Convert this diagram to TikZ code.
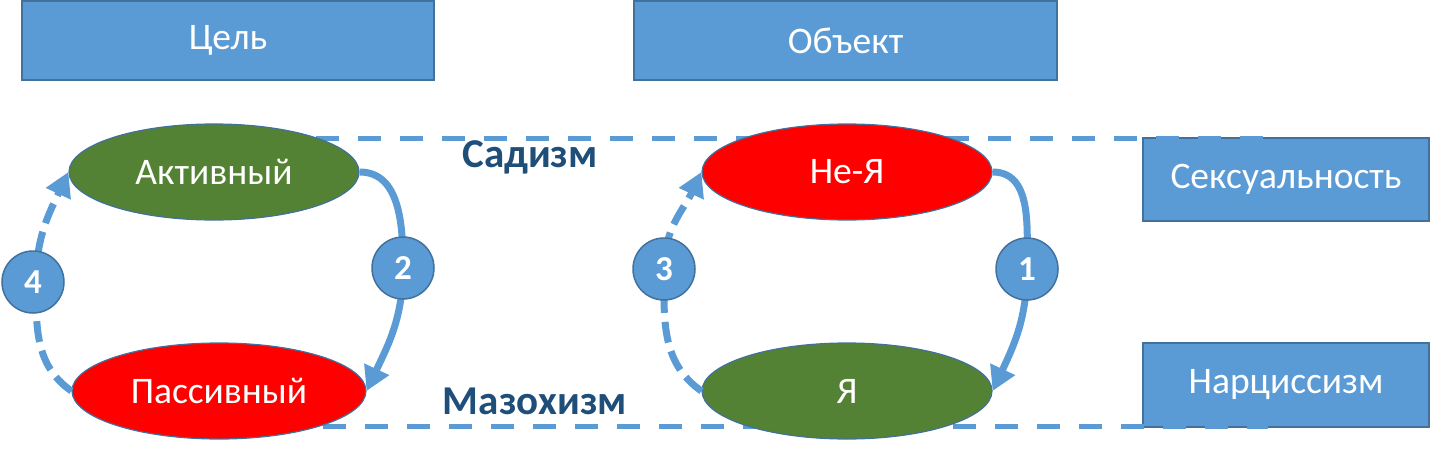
\documentclass[tikz,border=0pt]{standalone}
\usepackage{fontspec}
\setmainfont{Carlito}
\usetikzlibrary{arrows.meta,shapes.geometric}
\definecolor{boxblue}{HTML}{5B9BD5}
\definecolor{boxedge}{HTML}{41719C}
\definecolor{okgreen}{HTML}{548235}
\definecolor{okred}{HTML}{FF0000}
\definecolor{labelblue}{HTML}{1F4E79}
\tikzset{
  hbox/.style={draw=boxedge, line width=1.5pt, fill=boxblue, text=white, minimum width=#1, minimum height=80pt, inner sep=0pt, font=\fontsize{37.5}{40}\selectfont},
  oval/.style={ellipse, draw=boxedge, line width=1.2pt, fill=#1, text=white, minimum width=290pt, minimum height=96pt, inner sep=0pt, font=\fontsize{37.5}{40}\selectfont},
  numc/.style={circle, draw=boxedge, line width=1.5pt, fill=boxblue, text=white, minimum size=62pt, inner sep=0pt, font=\bfseries\fontsize{35}{36}\selectfont},
  solidarr/.style={draw=boxblue, line width=7pt, -{Triangle[length=24pt,width=26pt]}},
  dasharr/.style={draw=boxblue, line width=7pt, dash pattern=on 21pt off 9pt, -{Triangle[length=24pt,width=26pt]}},
  hline/.style={draw=boxblue, line width=5pt, dash pattern=on 23pt off 19pt},
  lbl/.style={text=labelblue, font=\bfseries\fontsize{41}{44}\selectfont}
}
\begin{document}
\begin{tikzpicture}[x=1pt,y=-1pt]
\useasboundingbox (0,0) rectangle (1430,452);
% top boxes
\node[hbox=412pt, minimum height=79pt] (goal) at (228,40.5) {Цель};
\node[hbox=423pt, minimum height=79pt] (obj) at (845.5,40.5) {Объект};
% right boxes
\node[hbox=286pt, minimum height=83pt] (sex) at (1286,179.5) {Сексуальность};
\node[hbox=286pt, minimum height=84pt] (narc) at (1286,385) {Нарциссизм};
% dashed horizontal lines
\coordinate (tl) at (316,138);
\coordinate (tr) at (1268,138);
\coordinate (bl) at (323,426);
\coordinate (br) at (1268,426);
\draw[hline] (tl) -- (tr);
\draw[hline] (bl) -- (br);
% circles positions
\coordinate (c4) at (36,282);
\coordinate (c2) at (403,268);
\coordinate (c3) at (664,269);
\coordinate (c1) at (1027,269);
% ellipses
\node[oval=okgreen] (act) at (214,172) {Активный};
\node[oval=okred, minimum width=294pt] (pas) at (219,391) {Пассивный};
\node[oval=okred] (nself) at (847,172) {Не-Я};
\node[oval=okgreen] (self) at (847,391) {Я};
% arrows
\draw[solidarr] (act.east) to[out=0,in=90] (c2) to[out=-90,in=65] (pas.east);
\draw[dasharr] (pas.west) to[out=145,in=-90] (c4) to[out=90,in=-115] (act.west);
\draw[solidarr] (nself.east) to[out=0,in=90] (c1) to[out=-90,in=65] (self.east);
\draw[dasharr] (self.west) to[out=145,in=-90] (c3) to[out=90,in=-115] (nself.west);
% number circles
\node[numc] (n4) at (33,282) {4};
\node[numc] (n2) at (403,268) {2};
\node[numc] (n3) at (664,269) {3};
\node[numc] (n1) at (1027,269) {1};
% labels
\node[lbl] (sad) at (530,157) {Садизм};
\node[lbl] (maz) at (535,401) {Мазохизм};
\end{tikzpicture}
\end{document}
